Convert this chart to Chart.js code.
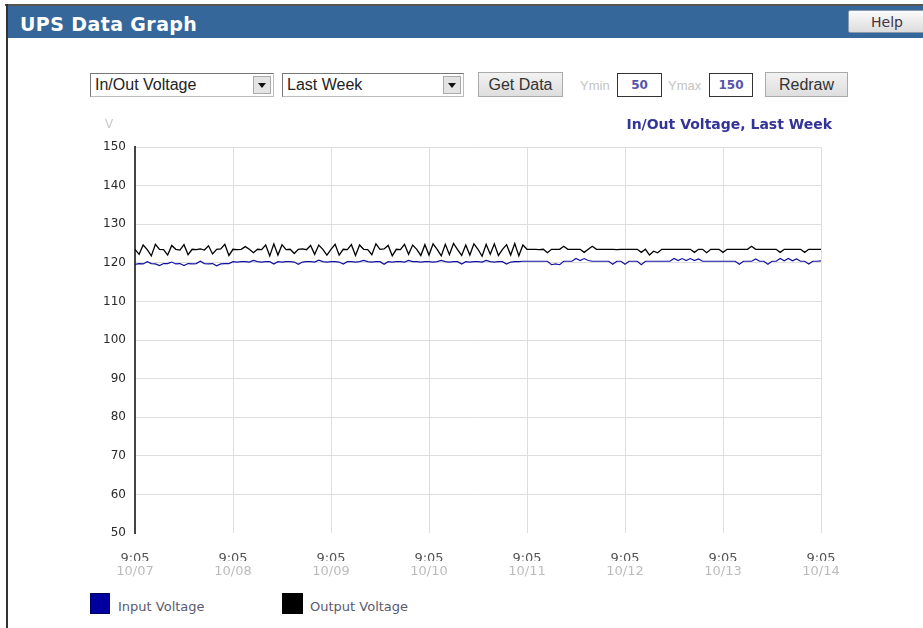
<!DOCTYPE html>
<html>
<head>
<meta charset="utf-8">
<title>UPS Data Graph</title>
<script src="https://cdn.jsdelivr.net/npm/chart.js@4.4.1/dist/chart.umd.min.js"></script>
<style>
  html, body { margin: 0; padding: 0; background: #fff; width: 923px; height: 628px; overflow: hidden; font-family: 'Liberation Sans', Arial, sans-serif; }
  .abs { position: absolute; }
  #topline { left: 5px; top: 4px; width: 918px; height: 2px; background: #555; }
  #leftline { left: 6px; top: 4px; width: 2px; height: 624px; background: #333; }
  #header { left: 8px; top: 6px; width: 915px; height: 32px; background: #36679a; }
  #hdtitle { left: 20px; top: 13px; color: #fff; font: bold 19px 'DejaVu Sans', sans-serif; letter-spacing: 0.4px; }
  #help { left: 848px; top: 10px; width: 80px; height: 23px; background: linear-gradient(#fbfbfb, #dcdcdc); border: 1px solid #8a9aaa; border-radius: 2px; font: 14px 'DejaVu Sans', sans-serif; color: #443344; line-height: 23px; padding-left: 22px; box-sizing: border-box; }
  .sel { top: 73px; height: 24px; box-sizing: border-box; border: 1px solid #777; border-bottom-color: #bbb; border-right-color: #bbb; background: #fff; font-size: 16px; color: #222; line-height: 22px; padding-left: 4px; }
  .arrow { position: absolute; right: 2px; top: 2px; width: 18px; height: 18px; box-sizing: border-box; background: #e4e4e4; border: 1px solid #aaa; }
  .arrow:after { content: ''; position: absolute; left: 4px; top: 6px; border-left: 4px solid transparent; border-right: 4px solid transparent; border-top: 5px solid #111; }
  .btn { top: 72px; height: 25px; box-sizing: border-box; border: 1px solid #aaa; background: linear-gradient(#f2f2f2, #dedede); font-size: 16px; color: #333; text-align: center; line-height: 23px; }
  .lbl { top: 78px; font-size: 13px; color: #c4c4c4; }
  .box { top: 73px; height: 24px; box-sizing: border-box; border: 1px solid #333; font: bold 12px 'DejaVu Sans', sans-serif; color: #5555aa; text-align: center; line-height: 22px; }
  .sw { top: 593px; width: 20px; height: 21px; }
  .lt { top: 599px; font: 13px 'DejaVu Sans', sans-serif; color: #5a5a70; }
  #chartbox { left: 40px; top: 110px; width: 840px; height: 480px; }
</style>
</head>
<body>
<div class="abs" id="header"></div>
<div class="abs" id="topline"></div>
<div class="abs" id="leftline"></div>
<div class="abs" id="hdtitle">UPS Data Graph</div>
<div class="abs" id="help">Help</div>

<div class="abs sel" style="left:90px;width:184px;">In/Out Voltage<div class="arrow"></div></div>
<div class="abs sel" style="left:282px;width:182px;">Last Week<div class="arrow"></div></div>
<div class="abs btn" style="left:478px;width:85px;">Get Data</div>
<div class="abs lbl" style="left:580px;">Ymin</div>
<div class="abs box" style="left:617px;width:45px;">50</div>
<div class="abs lbl" style="left:668px;">Ymax</div>
<div class="abs box" style="left:709px;width:44px;">150</div>
<div class="abs btn" style="left:765px;width:83px;">Redraw</div>

<div class="abs" id="chartbox"><canvas id="upsChart" width="840" height="480"></canvas></div>

<div class="abs sw" style="left:90px;background:#0000a0;border:1px solid #000060;box-sizing:border-box;"></div>
<div class="abs lt" style="left:118px;">Input Voltage</div>
<div class="abs sw" style="left:282px;width:21px;background:#000;"></div>
<div class="abs lt" style="left:310px;">Output Voltage</div>

<script>
// one sample per hour, 9:05 10/07 -> 9:05 10/14
const dayLabels = ['10/07', '10/08', '10/09', '10/10', '10/11', '10/12', '10/13', '10/14'];
const timeLabel = '9:05';
const yTicks = { min: 50, max: 150, step: 10 };

const inputVoltage = [
  119.6, 119.8, 119.7, 120.3, 119.8, 119.7, 119.3, 119.8, 119.8, 120.2, 119.7, 119.8, 119.3, 119.8, 119.7, 119.8, 120.4, 119.8, 119.7, 119.8, 119.2, 119.7, 119.8, 119.8,
  120.3, 120.2, 120.3, 120.3, 120.2, 120.6, 120.3, 120.2, 120.3, 120.3, 119.7, 120.3, 120.2, 120.3, 120.3, 120.2, 119.6, 120.2, 120.3, 120.3, 120.2, 120.7, 120.3, 120.2,
  120.3, 120.3, 120.2, 119.7, 120.3, 120.3, 120.2, 120.3, 120.6, 120.3, 120.2, 120.3, 120.3, 119.6, 120.3, 120.2, 120.3, 120.3, 120.2, 120.6, 120.3, 120.3, 120.2, 120.3,
  120.3, 120.2, 120.3, 120.6, 120.3, 120.2, 120.3, 120.3, 119.7, 120.3, 120.2, 120.3, 120.3, 120.2, 120.6, 120.3, 120.2, 120.3, 120.3, 119.7, 120.2, 120.3, 120.3, 120.4,
  120.4, 120.4, 120.4, 120.4, 120.4, 120.4, 119.5, 119.7, 119.5, 120.4, 120.4, 120.4, 121.1, 120.6, 121.1, 120.6, 120.4, 120.4, 120.4, 120.4, 120.4, 119.6, 120.4, 120.4,
  119.6, 120.4, 120.4, 120.4, 119.5, 120.4, 120.4, 120.4, 120.4, 120.4, 120.4, 120.4, 121.1, 120.6, 121.1, 120.6, 121.1, 120.6, 121.0, 120.4, 120.4, 120.4, 120.4, 120.4,
  120.4, 120.4, 120.4, 120.4, 119.6, 120.4, 120.4, 120.4, 121.0, 120.4, 120.4, 119.6, 120.4, 120.4, 121.1, 120.5, 121.1, 120.5, 121.0, 120.4, 120.4, 119.7, 120.4, 120.4,
  120.5
];

const outputVoltage = [
  123.5, 122.2, 124.6, 123.4, 121.8, 124.8, 123.5, 123.4, 122.0, 124.5, 123.5, 123.3, 124.7, 122.1, 123.5, 123.4, 123.6, 123.3, 124.4, 122.3, 123.5, 123.6, 124.8, 121.9,
  123.5, 123.4, 123.5, 124.2, 123.5, 122.6, 123.5, 123.4, 124.6, 121.8, 124.9, 122.0, 124.7, 123.4, 123.5, 122.4, 123.5, 123.6, 123.4, 124.5, 122.2, 124.6, 123.5, 122.0,
  123.5, 124.8, 122.0, 123.5, 123.4, 124.7, 121.9, 124.6, 123.5, 123.4, 122.1, 124.9, 123.5, 123.6, 124.5, 121.8, 123.5, 123.4, 124.8, 122.2, 124.6, 123.5, 121.9, 124.7,
  122.0, 124.9, 123.5, 121.8, 124.8, 122.1, 125.0, 123.4, 121.9, 124.6, 122.0, 124.9, 123.5, 121.7, 124.8, 122.2, 124.9, 121.9, 123.5, 124.7, 122.0, 125.0, 121.8, 124.6,
  123.5, 123.5, 123.5, 123.4, 123.5, 122.6, 123.5, 123.5, 123.5, 124.3, 123.5, 123.5, 123.5, 123.5, 122.7, 123.5, 124.3, 123.5, 123.5, 123.5, 123.5, 123.5, 123.4, 123.5,
  123.5, 123.5, 123.5, 123.5, 122.7, 123.5, 122.0, 123.0, 122.6, 123.5, 123.5, 123.5, 123.5, 123.5, 123.5, 123.5, 123.5, 122.7, 123.5, 123.5, 122.6, 123.5, 123.5, 123.5,
  122.7, 123.5, 123.5, 123.5, 123.5, 123.5, 123.5, 124.3, 123.5, 123.5, 123.5, 123.5, 123.5, 123.5, 122.7, 123.5, 123.5, 123.5, 123.5, 123.5, 122.7, 123.5, 123.5, 123.5,
  123.5
];

const toPoints = (arr) => arr.map((v, i) => ({ x: i, y: v }));

Chart.defaults.font.family = "'DejaVu Sans', sans-serif";
Chart.defaults.font.size = 12;

// "V" unit and the chart caption
const captionPlugin = {
  id: 'caption',
  afterDraw(chart) {
    const { ctx, chartArea } = chart;
    ctx.save();
    ctx.textBaseline = 'middle';
    ctx.font = "12px 'DejaVu Sans', sans-serif";
    ctx.fillStyle = '#c8c8c8';
    ctx.textAlign = 'left';
    ctx.fillText('V', chartArea.left - 30, 15);
    ctx.font = "bold 14px 'DejaVu Sans', sans-serif";
    ctx.fillStyle = '#333399';
    ctx.textAlign = 'right';
    ctx.fillText('In/Out Voltage, Last Week', chartArea.right + 11, 15);
    ctx.restore();
  }
};

const ctxUps = document.getElementById('upsChart').getContext('2d');
const upsChart = new Chart(ctxUps, {
  type: 'line',
  data: {
    datasets: [
      {
        label: 'Input Voltage',
        data: toPoints(inputVoltage),
        borderColor: '#1010a0',
        borderWidth: 1.2,
        pointRadius: 0,
        tension: 0,
      },
      {
        label: 'Output Voltage',
        data: toPoints(outputVoltage),
        borderColor: '#000000',
        borderWidth: 1.3,
        pointRadius: 0,
        tension: 0,
      },
    ],
  },
  options: {
    responsive: false,
    animation: false,
    layout: { padding: { top: 37, right: 59, bottom: 5, left: 0 } },
    plugins: {
      legend: { display: false },
      title: { display: false },
      tooltip: { enabled: false },
    },
    scales: {
      x: {
        type: 'linear',
        position: 'bottom',
        min: 0,
        max: 168,
        weight: 0,
        grid: { color: '#dedede', drawTicks: false },
        border: { display: false },
        ticks: {
          stepSize: 24,
          autoSkip: false,
          maxRotation: 0,
          padding: 18,
          color: '#555',
          font: { size: 13 },
          callback: () => timeLabel,
        },
        afterFit: (scale) => { scale.height = 28; },
      },
      xDate: {
        type: 'linear',
        position: 'bottom',
        axis: 'x',
        min: 0,
        max: 168,
        weight: 1,
        grid: { display: false, drawTicks: false },
        border: { display: false },
        ticks: {
          stepSize: 24,
          autoSkip: false,
          maxRotation: 0,
          padding: 3,
          color: '#bbbbbb',
          font: { size: 13 },
          callback: (value, index) => dayLabels[index],
        },
        afterFit: (scale) => { scale.height = 24; },
      },
      y: {
        min: yTicks.min,
        max: yTicks.max,
        grid: {
          drawTicks: false,
          color: (c) => (c.tick && c.tick.value === yTicks.min ? 'rgba(0,0,0,0)' : '#dedede'),
        },
        border: { display: true, color: '#444', width: 2 },
        ticks: { stepSize: yTicks.step, padding: 9, color: '#2a2a2a' },
        afterFit: (scale) => { scale.width = 95; },
      },
    },
  },
  plugins: [captionPlugin],
});
</script>
</body>
</html>
